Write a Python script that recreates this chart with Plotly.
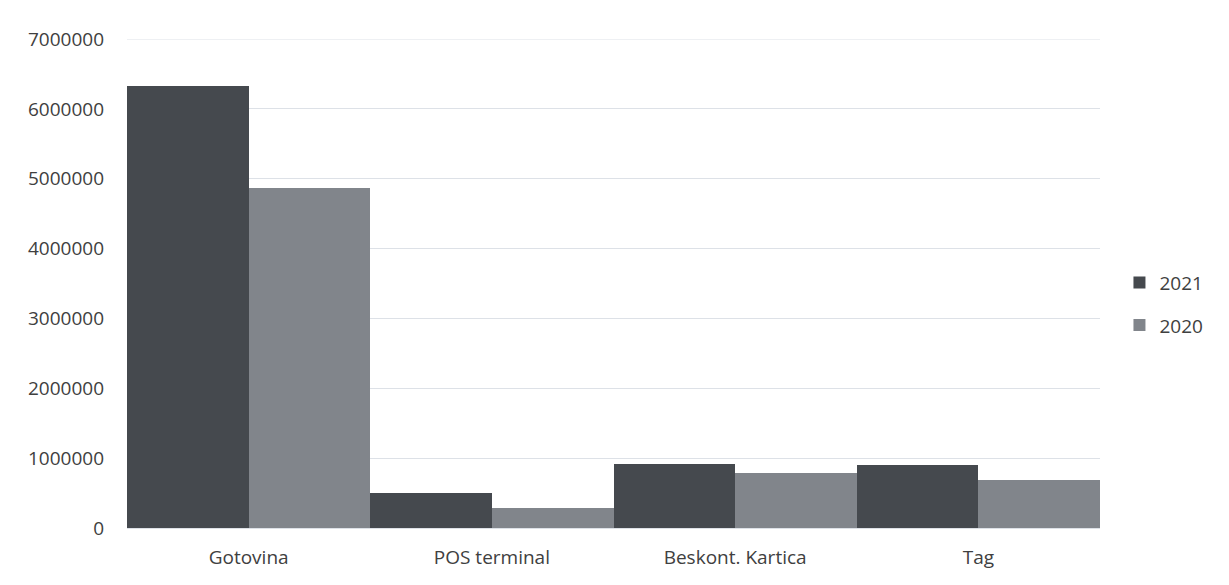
import plotly.graph_objects as go

categories = ["Gotovina", "POS terminal", "Beskont. Kartica", "Tag"]
values_2021 = [6330000, 500000, 920000, 900000]
values_2020 = [4870000, 290000, 790000, 690000]
y_ticks = [0, 1000000, 2000000, 3000000, 4000000, 5000000, 6000000, 7000000]

fig = go.Figure()
fig.add_trace(go.Bar(name="2021", x=categories, y=values_2021, legendgroup="a",
                     marker=dict(color="#45494e", line=dict(width=0))))
fig.add_trace(go.Bar(name="2020", x=categories, y=values_2020, legendgroup="b",
                     marker=dict(color="#81858b", line=dict(width=0))))

# top gridline (plotly hides gridlines at the very edge of the range)
fig.add_shape(type="line", xref="paper", yref="y", x0=0, x1=1,
              y0=y_ticks[-1], y1=y_ticks[-1],
              line=dict(color="#dde1e7", width=1), layer="below")

fig.update_layout(
    width=1229, height=585,
    barmode="group", bargap=0, bargroupgap=0,
    paper_bgcolor="white", plot_bgcolor="white",
    margin=dict(l=119, r=137, t=31, b=65),
    font=dict(family="Open Sans, Liberation Sans, sans-serif", size=19, color="#404040"),
    showlegend=True,
    legend=dict(x=1.02, y=0.458, xanchor="left", yanchor="middle",
                font=dict(size=19, color="#404040"), itemsizing="constant",
                tracegroupgap=15),
    xaxis=dict(showgrid=False, showline=False, ticks="", zeroline=False,
               ticklabelstandoff=16,
               tickfont=dict(size=19, color="#404040")),
    yaxis=dict(range=[0, 7000000], tickvals=y_ticks,
               ticktext=[str(v) for v in y_ticks],
               showgrid=True, gridcolor="#dde1e7", gridwidth=1,
               zeroline=True, zerolinecolor="#dde1e7", showline=False,
               ticks="", ticklabelstandoff=22,
               tickfont=dict(size=19, color="#404040")),
)

fig.write_html("out.html")
